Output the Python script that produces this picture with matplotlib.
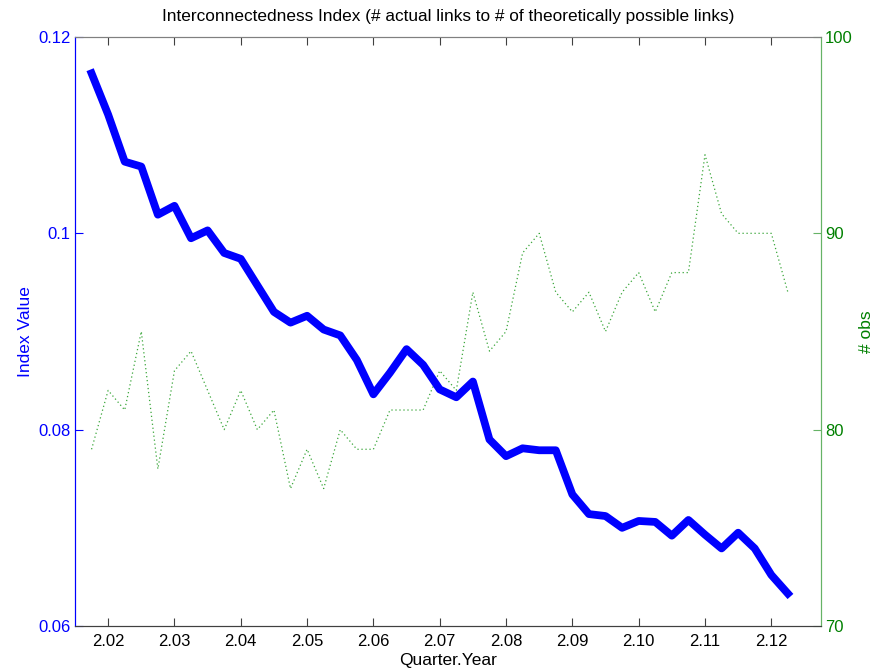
import numpy as np
import matplotlib
matplotlib.use("Agg")
import matplotlib.pyplot as plt
from matplotlib.ticker import FixedLocator, FormatStrFormatter

plt.rcParams['font.family'] = ['Liberation Sans', 'DejaVu Sans']

# Quarter.Year positions (43 points, step 0.0025)
quarters = [2.0175 + 0.0025 * i for i in range(43)]

index_value = [
    0.1163, 0.1121, 0.1073, 0.1068, 0.1019, 0.1028, 0.0995, 0.1003, 0.0980, 0.0974,
    0.0947, 0.0920, 0.0909, 0.0916, 0.0902, 0.0896, 0.0871, 0.0836, 0.0858, 0.0882,
    0.0866, 0.0841, 0.0833, 0.0849, 0.0790, 0.0773, 0.0781, 0.0779, 0.0779, 0.0734,
    0.0714, 0.0712, 0.0700, 0.0707, 0.0706, 0.0692, 0.0708, 0.0693, 0.0679, 0.0695,
    0.0679, 0.0652, 0.0633,
]

num_obs = [
    79, 82, 81, 85, 78, 83, 84, 82, 80, 82,
    80, 81, 77, 79, 77, 80, 79, 79, 81, 81,
    81, 83, 82, 87, 84, 85, 89, 90, 87, 86,
    87, 85, 87, 88, 86, 88, 88, 94, 91, 90,
    90, 90, 87,
]

x_ticks = [2.02, 2.03, 2.04, 2.05, 2.06, 2.07, 2.08, 2.09, 2.10, 2.11, 2.12]
left_ticks = [0.06, 0.08, 0.10, 0.12]
left_labels = ['0.06', '0.08', '0.1', '0.12']
right_ticks = [70, 80, 90, 100]

fig = plt.figure(figsize=(8.8, 6.69), dpi=100)
ax = fig.add_axes([0.0852, 0.0643, 0.933 - 0.0852, 0.9447 - 0.0643])
ax2 = ax.twinx()

blue = '#0000ff'
green = '#008000'

ax2.plot(quarters, num_obs, linestyle=(0, (1, 2.2)), color='#3aa63a', linewidth=0.9)
ax.plot(quarters, index_value, color=blue, linewidth=5.6, solid_joinstyle='round')
ax.set_zorder(ax2.get_zorder() + 1)
ax.patch.set_visible(False)

ax.set_xlim(2.015, 2.1275)
ax.set_ylim(0.06, 0.12)
ax2.set_ylim(70, 100)

ax.xaxis.set_major_locator(FixedLocator(x_ticks))
ax.xaxis.set_major_formatter(FormatStrFormatter('%.2f'))
ax.yaxis.set_major_locator(FixedLocator(left_ticks))
ax.set_yticklabels(left_labels)
ax2.yaxis.set_major_locator(FixedLocator(right_ticks))

fs = 12
ax.tick_params(axis='x', direction='in', top=True, length=6, width=0.8,
               colors='#404040', labelcolor='black', labelsize=fs, pad=6)
ax.tick_params(axis='y', direction='in', length=6, width=0.8,
               colors=blue, labelcolor=blue, labelsize=fs, pad=3)
ax2.tick_params(axis='y', direction='in', length=6, width=0.8,
                colors='#66b366', labelcolor=green, labelsize=fs, pad=3)

for a in (ax, ax2):
    a.spines['top'].set_color('#808080')
    a.spines['bottom'].set_color('#404040')
    a.spines['left'].set_color(blue)
    a.spines['right'].set_color('#66b366')

ax.set_xlabel('Quarter.Year', fontsize=12.5, labelpad=2.5)
ax.set_ylabel('Index Value', color=blue, fontsize=12.5, labelpad=4)
ax2.set_ylabel('# obs', color=green, fontsize=12.5, labelpad=4)
ax.set_title('Interconnectedness Index (# actual links to # of theoretically possible links)',
             fontsize=12.4, pad=11.5)

fig.savefig('out.png', dpi=100)
